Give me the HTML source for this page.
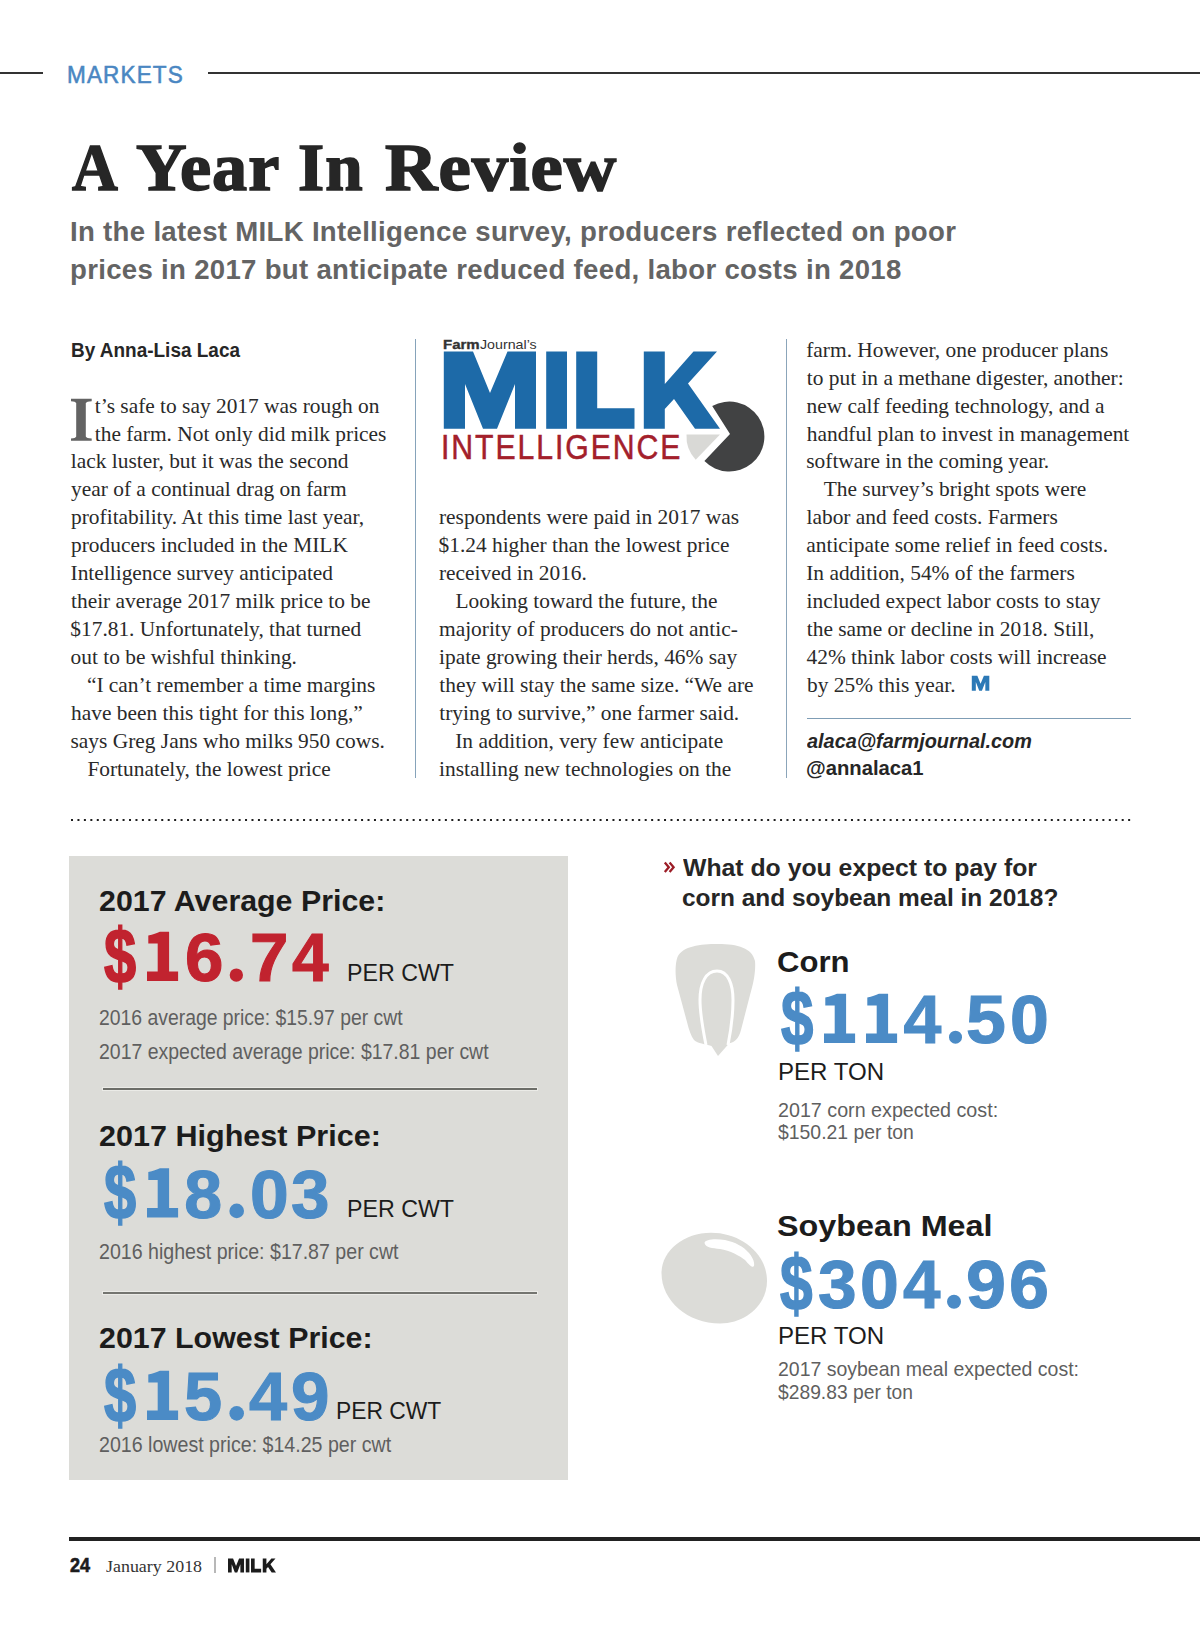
<!DOCTYPE html>
<html><head><meta charset="utf-8"><title>A Year In Review</title>
<style>
html,body{margin:0;padding:0;background:#fff;}
body{width:1200px;height:1625px;position:relative;overflow:hidden;font-family:"Liberation Sans",sans-serif;}
.t{position:absolute;white-space:pre;transform-origin:0 0;}
.r{position:absolute;}
</style></head><body>
<!-- header rules -->
<div class="r" style="left:0;top:72px;width:43px;height:2px;background:#333"></div>
<div class="r" style="left:208px;top:72px;width:992px;height:2px;background:#333"></div>
<!-- column dividers -->
<div class="r" style="left:415px;top:339px;width:1px;height:439px;background:#86a3ba"></div>
<div class="r" style="left:786px;top:339px;width:1px;height:439px;background:#8ba5ba"></div>
<!-- drop cap -->
<svg class="r" style="left:0;top:0" width="1200" height="1625" viewBox="0 0 1200 1625">
<!-- drop cap I -->
<path d="M71,398.8 H91.7 V401.2 Q86.5,401.5 85.8,403 V436.5 Q86.5,438.3 91.7,438.6 V440.8 H71 V438.6 Q75.5,438.3 76.2,436.5 V403 Q75.5,401.5 71,401.2 Z" fill="#636363"/>
<!-- MILK logo -->
<g fill="#1d6aa8">
<path id="mM" d="M443.8,351.5 L473,351.5 L490,393 L507.5,351.5 L536,351.5 L536,428.8 L515,428.8 L515,384 L497,428.8 L483,428.8 L465,384 L465,428.8 L443.8,428.8 Z"/>
<rect id="mI" x="546.2" y="351.5" width="20.8" height="77.3"/>
<path id="mL" d="M576.2,351.5 H597.2 V408.2 H634.5 V428.8 H576.2 Z"/>
<path id="mK" d="M643.8,351.5 L664.8,351.5 L664.8,384 L693.5,351.5 L717,351.5 L688,383.5 L720,428.8 L695,428.8 L674,399 L664.8,409 L664.8,428.8 L643.8,428.8 Z"/>
</g>
<!-- pie -->
<path d="M730,434 L712.2,406.1 A35,35 0 1 1 704.4,461.1 Z" fill="#414243"/>
<path d="M720,434.5 L686.5,434.5 A34,34 0 0 0 695.7,459.7 Z" fill="#d9d9d6"/>
<!-- corn -->
<path d="M677.5,957 C683,946 700,944 718,944 C738,944 752,948 755,961 C756,972 753,985 750,995 L741,1030 C739,1038 735,1042 729,1043.5 L718,1056 L711.5,1046 C705,1044 698,1043.5 694,1040 C691,1036 689,1030 687,1022 L677,985 C675,975 675,964 677.5,957 Z" fill="#dcdcd8"/>
<path d="M706,1045 C703,1030 700,1015 700,1000 C700,983 706,971 717,971 C728,971 733,984 733,1000 C733,1015 731,1030 728,1045" fill="none" stroke="#fff" stroke-width="3"/>
<!-- soy -->
<path d="M711,1232.8 C741.9,1232.8 767,1254.4 767,1281 C767,1304.5 746,1323.5 720,1323.5 C687.7,1323.5 661.5,1300.9 661.5,1273 C661.5,1250.8 683.7,1232.8 711,1232.8 Z" fill="#dcdcd8"/>
<path d="M704.5,1243 C705,1239 716,1238.5 725,1240 C735,1242 744,1247 748,1252 C752,1256 755,1262 754,1266 C752.5,1268 750,1266 745,1260 C740,1256 730,1250.5 720,1249 C712,1248 706,1248 704.5,1243 Z" fill="#fff"/>
<!-- end mark M -->
<g fill="#2c79b6" transform="translate(971.8,675.8) scale(0.19,0.194) translate(-443.8,-351.5)"><use href="#mM"/></g>
<!-- footer -->
<rect x="214.3" y="1557" width="1.4" height="16" fill="#9a9a9a"/>
<g fill="#1c1c1c" transform="translate(228,1558.5) scale(0.1738,0.18) translate(-443.8,-351.5)"><use href="#mM"/><use href="#mI"/><use href="#mL"/><use href="#mK"/></g>
<!-- dotted rule -->
<line x1="71" y1="820" x2="1131" y2="820" stroke="#1e1e1e" stroke-width="2" stroke-dasharray="2 4.446"/>
<polyline points="664.8,862.6 668.8,867.3 664.8,872.1" fill="none" stroke="#9c1d27" stroke-width="2.3"/>
<polyline points="669.6,862.6 673.6,867.3 669.6,872.1" fill="none" stroke="#9c1d27" stroke-width="2.3"/>
</svg>
<!-- col3 rule -->
<div class="r" style="left:807px;top:718px;width:324px;height:1px;background:#7f9db5"></div>
<!-- gray box -->
<div class="r" style="left:69px;top:856px;width:499px;height:624px;background:#dcdcd8"></div>
<div class="r" style="left:102px;top:1087px;width:436px;height:4px;background:#ebebe7"></div><div class="r" style="left:103px;top:1088px;width:434px;height:2px;background:#6c6d68"></div>
<div class="r" style="left:102px;top:1291px;width:436px;height:4px;background:#ebebe7"></div><div class="r" style="left:103px;top:1292px;width:434px;height:2px;background:#747570"></div>
<!-- footer rule -->
<div class="r" style="left:69px;top:1537px;width:1131px;height:4px;background:#222"></div>
<div class="t" style="left:67.12px;top:63.20px;font:normal 400 24px/24px 'Liberation Sans', sans-serif;color:#4a87c2;letter-spacing:1.2px;transform:scaleX(0.9399);-webkit-text-stroke:0.55px #4a87c2;">MARKETS</div>
<div class="t" style="left:72.01px;top:132.80px;font:normal 700 68.5px/68px 'Liberation Serif', serif;color:#262626;letter-spacing:1.0px;transform:scaleX(0.9260);-webkit-text-stroke:1.6px #262626;">A</div>
<div class="t" style="left:136.22px;top:132.80px;font:normal 700 68.5px/68px 'Liberation Serif', serif;color:#262626;letter-spacing:1.0px;transform:scaleX(1.0237);-webkit-text-stroke:1.6px #262626;">Year</div>
<div class="t" style="left:297.99px;top:132.80px;font:normal 700 68.5px/68px 'Liberation Serif', serif;color:#262626;letter-spacing:1.0px;transform:scaleX(0.9818);-webkit-text-stroke:1.6px #262626;">In</div>
<div class="t" style="left:384.87px;top:132.80px;font:normal 700 68.5px/68px 'Liberation Serif', serif;color:#262626;letter-spacing:1.0px;transform:scaleX(1.0611);-webkit-text-stroke:1.6px #262626;">Review</div>
<div class="t" style="left:70.21px;top:219.10px;font:normal 700 27px/27px 'Liberation Sans', sans-serif;color:#646464;letter-spacing:0.3px;transform:scaleX(1.0218);">In the latest MILK Intelligence survey, producers reflected on poor</div>
<div class="t" style="left:70.21px;top:256.50px;font:normal 700 27px/27px 'Liberation Sans', sans-serif;color:#646464;letter-spacing:0.3px;transform:scaleX(1.0214);">prices in 2017 but anticipate reduced feed, labor costs in 2018</div>
<div class="t" style="left:70.78px;top:340.00px;font:normal 700 19.5px/20px 'Liberation Sans', sans-serif;color:#262626;transform:scaleX(0.9725);">By Anna-Lisa Laca</div>
<div class="t" style="left:94.75px;top:395.64px;font:normal 400 21.4px/21px 'Liberation Serif', serif;color:#2a2a2a;">t’s safe to say 2017 was rough on</div>
<div class="t" style="left:94.75px;top:423.56px;font:normal 400 21.4px/21px 'Liberation Serif', serif;color:#2a2a2a;">the farm. Not only did milk prices</div>
<div class="t" style="left:70.80px;top:451.48px;font:normal 400 21.4px/21px 'Liberation Serif', serif;color:#2a2a2a;">lack luster, but it was the second</div>
<div class="t" style="left:71.05px;top:479.40px;font:normal 400 21.4px/21px 'Liberation Serif', serif;color:#2a2a2a;">year of a continual drag on farm</div>
<div class="t" style="left:71.05px;top:507.32px;font:normal 400 21.4px/21px 'Liberation Serif', serif;color:#2a2a2a;">profitability. At this time last year,</div>
<div class="t" style="left:71.05px;top:535.24px;font:normal 400 21.4px/21px 'Liberation Serif', serif;color:#2a2a2a;">producers included in the MILK</div>
<div class="t" style="left:70.55px;top:563.16px;font:normal 400 21.4px/21px 'Liberation Serif', serif;color:#2a2a2a;">Intelligence survey anticipated</div>
<div class="t" style="left:71.05px;top:591.08px;font:normal 400 21.4px/21px 'Liberation Serif', serif;color:#2a2a2a;">their average 2017 milk price to be</div>
<div class="t" style="left:70.30px;top:619.00px;font:normal 400 21.4px/21px 'Liberation Serif', serif;color:#2a2a2a;">$17.81. Unfortunately, that turned</div>
<div class="t" style="left:70.55px;top:646.92px;font:normal 400 21.4px/21px 'Liberation Serif', serif;color:#2a2a2a;">out to be wishful thinking.</div>
<div class="t" style="left:86.90px;top:674.84px;font:normal 400 21.4px/21px 'Liberation Serif', serif;color:#2a2a2a;">“I can’t remember a time margins</div>
<div class="t" style="left:71.05px;top:702.76px;font:normal 400 21.4px/21px 'Liberation Serif', serif;color:#2a2a2a;">have been this tight for this long,”</div>
<div class="t" style="left:70.55px;top:730.68px;font:normal 400 21.4px/21px 'Liberation Serif', serif;color:#2a2a2a;">says Greg Jans who milks 950 cows.</div>
<div class="t" style="left:87.40px;top:758.60px;font:normal 400 21.4px/21px 'Liberation Serif', serif;color:#2a2a2a;">Fortunately, the lowest price</div>
<div class="t" style="left:439.00px;top:507.32px;font:normal 400 21.4px/21px 'Liberation Serif', serif;color:#2a2a2a;">respondents were paid in 2017 was</div>
<div class="t" style="left:438.50px;top:535.24px;font:normal 400 21.4px/21px 'Liberation Serif', serif;color:#2a2a2a;">$1.24 higher than the lowest price</div>
<div class="t" style="left:439.00px;top:563.16px;font:normal 400 21.4px/21px 'Liberation Serif', serif;color:#2a2a2a;">received in 2016.</div>
<div class="t" style="left:455.50px;top:591.08px;font:normal 400 21.4px/21px 'Liberation Serif', serif;color:#2a2a2a;">Looking toward the future, the</div>
<div class="t" style="left:439.00px;top:619.00px;font:normal 400 21.4px/21px 'Liberation Serif', serif;color:#2a2a2a;">majority of producers do not antic-</div>
<div class="t" style="left:439.00px;top:646.92px;font:normal 400 21.4px/21px 'Liberation Serif', serif;color:#2a2a2a;">ipate growing their herds, 46% say</div>
<div class="t" style="left:439.25px;top:674.84px;font:normal 400 21.4px/21px 'Liberation Serif', serif;color:#2a2a2a;">they will stay the same size. “We are</div>
<div class="t" style="left:439.25px;top:702.76px;font:normal 400 21.4px/21px 'Liberation Serif', serif;color:#2a2a2a;">trying to survive,” one farmer said.</div>
<div class="t" style="left:455.25px;top:730.68px;font:normal 400 21.4px/21px 'Liberation Serif', serif;color:#2a2a2a;">In addition, very few anticipate</div>
<div class="t" style="left:439.00px;top:758.60px;font:normal 400 21.4px/21px 'Liberation Serif', serif;color:#2a2a2a;">installing new technologies on the</div>
<div class="t" style="left:806.25px;top:339.80px;font:normal 400 21.4px/21px 'Liberation Serif', serif;color:#2a2a2a;">farm. However, one producer plans</div>
<div class="t" style="left:806.75px;top:367.72px;font:normal 400 21.4px/21px 'Liberation Serif', serif;color:#2a2a2a;">to put in a methane digester, another:</div>
<div class="t" style="left:806.50px;top:395.64px;font:normal 400 21.4px/21px 'Liberation Serif', serif;color:#2a2a2a;">new calf feeding technology, and a</div>
<div class="t" style="left:806.75px;top:423.56px;font:normal 400 21.4px/21px 'Liberation Serif', serif;color:#2a2a2a;">handful plan to invest in management</div>
<div class="t" style="left:806.25px;top:451.48px;font:normal 400 21.4px/21px 'Liberation Serif', serif;color:#2a2a2a;">software in the coming year.</div>
<div class="t" style="left:823.75px;top:479.40px;font:normal 400 21.4px/21px 'Liberation Serif', serif;color:#2a2a2a;">The survey’s bright spots were</div>
<div class="t" style="left:806.50px;top:507.32px;font:normal 400 21.4px/21px 'Liberation Serif', serif;color:#2a2a2a;">labor and feed costs. Farmers</div>
<div class="t" style="left:806.25px;top:535.24px;font:normal 400 21.4px/21px 'Liberation Serif', serif;color:#2a2a2a;">anticipate some relief in feed costs.</div>
<div class="t" style="left:806.25px;top:563.16px;font:normal 400 21.4px/21px 'Liberation Serif', serif;color:#2a2a2a;">In addition, 54% of the farmers</div>
<div class="t" style="left:806.50px;top:591.08px;font:normal 400 21.4px/21px 'Liberation Serif', serif;color:#2a2a2a;">included expect labor costs to stay</div>
<div class="t" style="left:806.75px;top:619.00px;font:normal 400 21.4px/21px 'Liberation Serif', serif;color:#2a2a2a;">the same or decline in 2018. Still,</div>
<div class="t" style="left:806.50px;top:646.92px;font:normal 400 21.4px/21px 'Liberation Serif', serif;color:#2a2a2a;">42% think labor costs will increase</div>
<div class="t" style="left:807.00px;top:674.84px;font:normal 400 21.4px/21px 'Liberation Serif', serif;color:#2a2a2a;">by 25% this year.</div>
<div class="t" style="left:807.00px;top:730.50px;font:italic 700 19.5px/20px 'Liberation Sans', sans-serif;color:#262626;transform:scaleX(1.0193);">alaca@farmjournal.com</div>
<div class="t" style="left:805.96px;top:758.30px;font:normal 700 19.5px/20px 'Liberation Sans', sans-serif;color:#262626;transform:scaleX(1.0380);">@annalaca1</div>
<div class="t" style="left:442.68px;top:337.80px;font:normal 700 13.4px/13px 'Liberation Sans', sans-serif;color:#333;transform:scaleX(1.1200);-webkit-text-stroke:0.35px #333;">Farm</div>
<div class="t" style="left:479.73px;top:337.80px;font:normal 400 13.4px/13px 'Liberation Sans', sans-serif;color:#333;transform:scaleX(1.0623);">Journal’s</div>
<div class="t" style="left:440.77px;top:429.60px;font:normal 400 34.7px/35px 'Liberation Sans', sans-serif;color:#a3202b;letter-spacing:2.2px;transform:scaleX(0.8710);-webkit-text-stroke:0.5px #a3202b;">INTELLIGENCE</div>
<div class="t" style="left:99.49px;top:885.70px;font:normal 700 30px/30px 'Liberation Sans', sans-serif;color:#1c1c1c;transform:scaleX(1.0117);">2017 Average Price:</div>
<div class="t" style="left:347.11px;top:960.90px;font:normal 400 24.5px/24px 'Liberation Sans', sans-serif;color:#1c1c1c;transform:scaleX(0.9468);">PER CWT</div>
<div class="t" style="left:99.10px;top:1006.50px;font:normal 400 21.5px/22px 'Liberation Sans', sans-serif;color:#5f5f5f;transform:scaleX(0.9007);">2016 average price: $15.97 per cwt</div>
<div class="t" style="left:99.09px;top:1041.20px;font:normal 400 21.5px/22px 'Liberation Sans', sans-serif;color:#5f5f5f;transform:scaleX(0.9054);">2017 expected average price: $17.81 per cwt</div>
<div class="t" style="left:99.48px;top:1121.00px;font:normal 700 30px/30px 'Liberation Sans', sans-serif;color:#1c1c1c;transform:scaleX(1.0183);">2017 Highest Price:</div>
<div class="t" style="left:347.11px;top:1197.00px;font:normal 400 24.5px/24px 'Liberation Sans', sans-serif;color:#1c1c1c;transform:scaleX(0.9468);">PER CWT</div>
<div class="t" style="left:99.09px;top:1240.80px;font:normal 400 21.5px/22px 'Liberation Sans', sans-serif;color:#5f5f5f;transform:scaleX(0.9112);">2016 highest price: $17.87 per cwt</div>
<div class="t" style="left:99.49px;top:1323.20px;font:normal 700 30px/30px 'Liberation Sans', sans-serif;color:#1c1c1c;transform:scaleX(1.0128);">2017 Lowest Price:</div>
<div class="t" style="left:336.14px;top:1399.00px;font:normal 400 24.5px/24px 'Liberation Sans', sans-serif;color:#1c1c1c;transform:scaleX(0.9323);">PER CWT</div>
<div class="t" style="left:99.09px;top:1434.00px;font:normal 400 21.5px/22px 'Liberation Sans', sans-serif;color:#5f5f5f;transform:scaleX(0.9122);">2016 lowest price: $14.25 per cwt</div>
<div class="t" style="left:683.00px;top:856.40px;font:normal 700 23.5px/24px 'Liberation Sans', sans-serif;color:#262626;transform:scaleX(1.0548);">What do you expect to pay for</div>
<div class="t" style="left:681.96px;top:886.00px;font:normal 700 23.5px/24px 'Liberation Sans', sans-serif;color:#262626;transform:scaleX(1.0403);">corn and soybean meal in 2018?</div>
<div class="t" style="left:777.30px;top:946.50px;font:normal 700 30px/30px 'Liberation Sans', sans-serif;color:#1c1c1c;transform:scaleX(1.0363);">Corn</div>
<div class="t" style="left:777.85px;top:1059.60px;font:normal 400 23.5px/24px 'Liberation Sans', sans-serif;color:#1c1c1c;transform:scaleX(1.0247);">PER TON</div>
<div class="t" style="left:777.66px;top:1098.70px;font:normal 400 21px/21px 'Liberation Sans', sans-serif;color:#5f5f5f;transform:scaleX(0.9381);">2017 corn expected cost:</div>
<div class="t" style="left:778.37px;top:1121.00px;font:normal 400 21px/21px 'Liberation Sans', sans-serif;color:#5f5f5f;transform:scaleX(0.9238);">$150.21 per ton</div>
<div class="t" style="left:776.52px;top:1210.60px;font:normal 700 30px/30px 'Liberation Sans', sans-serif;color:#1c1c1c;transform:scaleX(1.0772);">Soybean Meal</div>
<div class="t" style="left:777.85px;top:1323.70px;font:normal 400 23.5px/24px 'Liberation Sans', sans-serif;color:#1c1c1c;transform:scaleX(1.0247);">PER TON</div>
<div class="t" style="left:777.67px;top:1357.50px;font:normal 400 21px/21px 'Liberation Sans', sans-serif;color:#5f5f5f;transform:scaleX(0.9274);">2017 soybean meal expected cost:</div>
<div class="t" style="left:778.37px;top:1380.50px;font:normal 400 21px/21px 'Liberation Sans', sans-serif;color:#5f5f5f;transform:scaleX(0.9170);">$289.83 per ton</div>
<div class="t" style="left:103.66px;top:916.75px;font:normal 700 78.6px/79px 'Liberation Sans', sans-serif;color:#c1232f;transform:scaleX(0.7360);-webkit-text-stroke:1.7px #c1232f;">$</div>
<div class="t" style="left:185.06px;top:923.00px;font:normal 700 68px/68px 'Liberation Sans', sans-serif;color:#c1232f;transform:scaleX(1.0159);-webkit-text-stroke:1.1px #c1232f;">6</div>
<div class="t" style="left:250.35px;top:923.00px;font:normal 700 68px/68px 'Liberation Sans', sans-serif;color:#c1232f;transform:scaleX(1.0157);-webkit-text-stroke:1.1px #c1232f;">7</div>
<div class="t" style="left:292.03px;top:923.00px;font:normal 700 68px/68px 'Liberation Sans', sans-serif;color:#c1232f;transform:scaleX(0.9683);-webkit-text-stroke:1.1px #c1232f;">4</div>
<div class="t" style="left:103.66px;top:1153.25px;font:normal 700 78.6px/79px 'Liberation Sans', sans-serif;color:#4b8bc6;transform:scaleX(0.7360);-webkit-text-stroke:1.7px #4b8bc6;">$</div>
<div class="t" style="left:184.35px;top:1159.50px;font:normal 700 68px/68px 'Liberation Sans', sans-serif;color:#4b8bc6;-webkit-text-stroke:1.1px #4b8bc6;">8</div>
<div class="t" style="left:249.78px;top:1159.50px;font:normal 700 68px/68px 'Liberation Sans', sans-serif;color:#4b8bc6;transform:scaleX(1.0239);-webkit-text-stroke:1.1px #4b8bc6;">0</div>
<div class="t" style="left:291.48px;top:1159.50px;font:normal 700 68px/68px 'Liberation Sans', sans-serif;color:#4b8bc6;transform:scaleX(1.0162);-webkit-text-stroke:1.1px #4b8bc6;">3</div>
<div class="t" style="left:103.66px;top:1355.75px;font:normal 700 78.6px/79px 'Liberation Sans', sans-serif;color:#4b8bc6;transform:scaleX(0.7360);-webkit-text-stroke:1.7px #4b8bc6;">$</div>
<div class="t" style="left:183.78px;top:1362.00px;font:normal 700 68px/68px 'Liberation Sans', sans-serif;color:#4b8bc6;transform:scaleX(1.0076);-webkit-text-stroke:1.1px #4b8bc6;">5</div>
<div class="t" style="left:248.99px;top:1362.00px;font:normal 700 68px/68px 'Liberation Sans', sans-serif;color:#4b8bc6;transform:scaleX(1.0059);-webkit-text-stroke:1.1px #4b8bc6;">4</div>
<div class="t" style="left:290.71px;top:1362.00px;font:normal 700 68px/68px 'Liberation Sans', sans-serif;color:#4b8bc6;transform:scaleX(1.0168);-webkit-text-stroke:1.1px #4b8bc6;">9</div>
<div class="t" style="left:780.66px;top:978.75px;font:normal 700 78.6px/79px 'Liberation Sans', sans-serif;color:#4b8bc6;transform:scaleX(0.7406);-webkit-text-stroke:1.7px #4b8bc6;">$</div>
<div class="t" style="left:903.40px;top:985.00px;font:normal 700 68px/68px 'Liberation Sans', sans-serif;color:#4b8bc6;-webkit-text-stroke:1.1px #4b8bc6;">4</div>
<div class="t" style="left:966.49px;top:985.00px;font:normal 700 68px/68px 'Liberation Sans', sans-serif;color:#4b8bc6;transform:scaleX(1.0537);-webkit-text-stroke:1.1px #4b8bc6;">5</div>
<div class="t" style="left:1009.58px;top:985.00px;font:normal 700 68px/68px 'Liberation Sans', sans-serif;color:#4b8bc6;transform:scaleX(1.0266);-webkit-text-stroke:1.1px #4b8bc6;">0</div>
<div class="t" style="left:779.85px;top:1243.75px;font:normal 700 78.6px/79px 'Liberation Sans', sans-serif;color:#4b8bc6;transform:scaleX(0.7453);-webkit-text-stroke:1.7px #4b8bc6;">$</div>
<div class="t" style="left:817.87px;top:1250.00px;font:normal 700 68px/68px 'Liberation Sans', sans-serif;color:#4b8bc6;transform:scaleX(1.0201);-webkit-text-stroke:1.1px #4b8bc6;">3</div>
<div class="t" style="left:859.58px;top:1250.00px;font:normal 700 68px/68px 'Liberation Sans', sans-serif;color:#4b8bc6;transform:scaleX(1.0266);-webkit-text-stroke:1.1px #4b8bc6;">0</div>
<div class="t" style="left:902.61px;top:1250.00px;font:normal 700 68px/68px 'Liberation Sans', sans-serif;color:#4b8bc6;transform:scaleX(0.9890);-webkit-text-stroke:1.1px #4b8bc6;">4</div>
<div class="t" style="left:966.22px;top:1250.00px;font:normal 700 68px/68px 'Liberation Sans', sans-serif;color:#4b8bc6;transform:scaleX(1.0563);-webkit-text-stroke:1.1px #4b8bc6;">9</div>
<div class="t" style="left:1008.96px;top:1250.00px;font:normal 700 68px/68px 'Liberation Sans', sans-serif;color:#4b8bc6;transform:scaleX(1.0563);-webkit-text-stroke:1.1px #4b8bc6;">6</div>
<div class="t" style="left:70.31px;top:1555.00px;font:normal 700 19.5px/20px 'Liberation Sans', sans-serif;color:#1c1c1c;transform:scaleX(0.9240);-webkit-text-stroke:0.6px #1c1c1c;">24</div>
<div class="t" style="left:105.74px;top:1557.00px;font:normal 400 17.5px/18px 'Liberation Serif', serif;color:#333;transform:scaleX(1.0244);">January 2018</div>
<svg class="r" style="left:0;top:0" width="1200" height="1625" viewBox="0 0 1200 1625"><path d="M157.70,943.40 H148.30 V935.50 C153.00,934.50 157.00,933.00 159.90,931.70 H169.10 V971.60 H178.10 V981.00 H147.00 V971.60 H157.70 Z" fill="#c1232f"/><circle cx="236.35" cy="975.05" r="6.65" fill="#c1232f"/><path d="M157.70,1179.90 H148.30 V1172.00 C153.00,1171.00 157.00,1169.50 159.90,1168.20 H169.10 V1208.10 H178.10 V1217.50 H147.00 V1208.10 H157.70 Z" fill="#4b8bc6"/><circle cx="236.70" cy="1210.90" r="7.30" fill="#4b8bc6"/><path d="M157.70,1382.40 H148.30 V1374.50 C153.00,1373.50 157.00,1372.00 159.90,1370.70 H169.10 V1410.60 H178.10 V1420.00 H147.00 V1410.60 H157.70 Z" fill="#4b8bc6"/><circle cx="236.70" cy="1413.40" r="7.30" fill="#4b8bc6"/><path d="M834.70,1005.40 H825.30 V997.50 C830.00,996.50 834.00,995.00 836.90,993.70 H846.10 V1033.60 H855.10 V1043.00 H824.00 V1033.60 H834.70 Z" fill="#4b8bc6"/><path d="M876.70,1005.40 H867.30 V997.50 C872.00,996.50 876.00,995.00 878.90,993.70 H888.10 V1033.60 H897.10 V1043.00 H866.00 V1033.60 H876.70 Z" fill="#4b8bc6"/><circle cx="955.50" cy="1037.20" r="6.50" fill="#4b8bc6"/><circle cx="954.00" cy="1301.70" r="7.00" fill="#4b8bc6"/></svg>
</body></html>
